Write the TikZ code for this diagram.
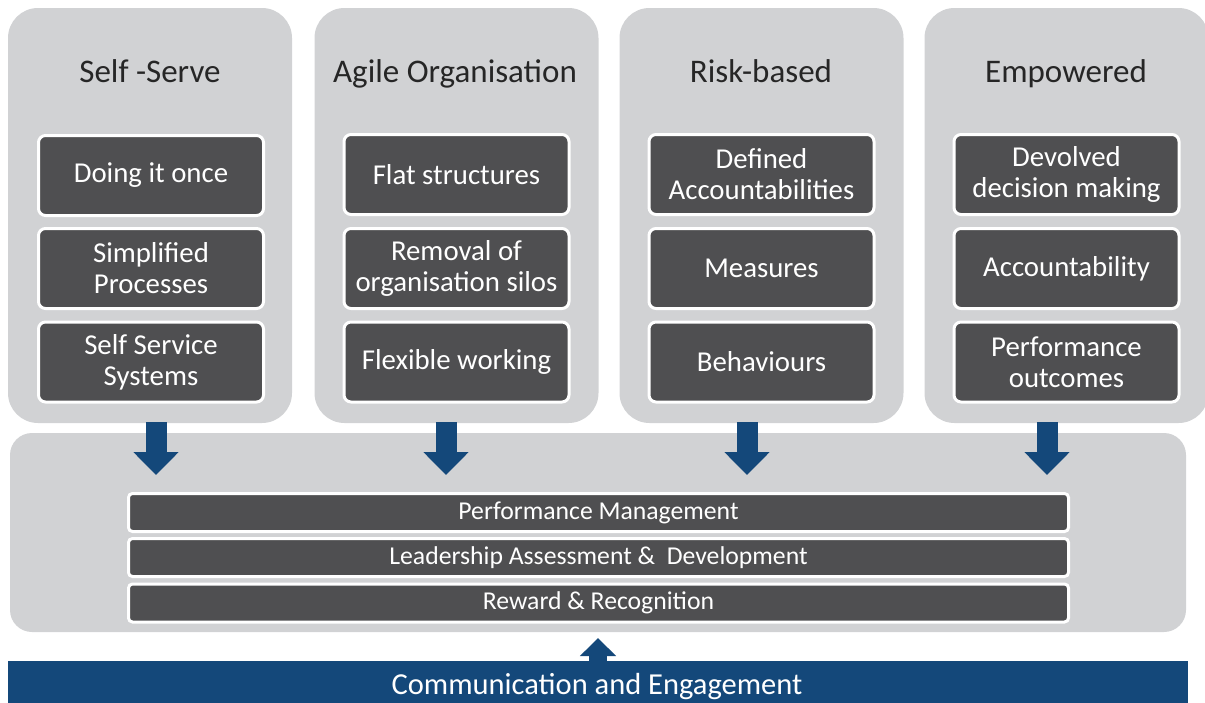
\documentclass[tikz,border=0pt]{standalone}
\usepackage{fontspec}
\setmainfont{Carlito}
\usetikzlibrary{arrows.meta}
\definecolor{panel}{HTML}{D1D2D4}
\definecolor{darkbox}{HTML}{4F4F51}
\definecolor{navy}{HTML}{14487A}
\definecolor{titlec}{HTML}{262626}
\begin{document}
\begin{tikzpicture}[x=1pt,y=-1pt,
  colbox/.style={rectangle, fill=panel, rounded corners=30pt, minimum width=284pt, minimum height=415pt, inner sep=0pt},
  coltitle/.style={font=\fontsize{33}{38}\selectfont, text=titlec, anchor=base, inner sep=0pt},
  itembox/.style={rectangle, fill=darkbox, draw=white, line width=3pt, rounded corners=7pt, minimum width=225pt, minimum height=80pt, text=white, align=center, font=\fontsize{28.8}{31}\selectfont, inner sep=0pt},
  basepanel/.style={rectangle, fill=panel, rounded corners=22pt, minimum width=1176pt, minimum height=199pt, inner sep=0pt},
  barbox/.style={rectangle, fill=darkbox, draw=white, line width=3pt, rounded corners=4pt, minimum width=940pt, minimum height=38pt, text=white, font=\fontsize{25.7}{28}\selectfont, inner sep=0pt},
  downarrow/.style={draw=navy, line width=21pt, -{Triangle[width=44pt,length=23pt]}},
  uparrow/.style={draw=navy, line width=18pt, -{Triangle[width=35pt,length=18pt]}},
]
\useasboundingbox (0,0) rectangle (1205,702);
% columns
\node[colbox] (col1) at (150,215.5) {};
\node[colbox] (col2) at (456.5,215.5) {};
\node[colbox] (col3) at (761.5,215.5) {};
\node[colbox] (col4) at (1066.5,215.5) {};
% titles
\node[coltitle] (t1) at (150,82) {Self -Serve};
\node[coltitle] (t2) at (455,82) {Agile Organisation};
\node[coltitle] (t3) at (761,82) {Risk-based};
\node[coltitle] (t4) at (1066,82) {Empowered};
% items
\node[itembox] (i11) at (151,175.5) {Doing it once};
\node[itembox] (i12) at (151,268.5) {Simplified\\Processes};
\node[itembox] (i13) at (151,362) {Self Service\\Systems};
\node[itembox] (i21) at (456.5,174.5) {Flat structures};
\node[itembox] (i22) at (456.5,268.5) {Removal of\\organisation silos};
\node[itembox] (i23) at (456.5,362) {Flexible working};
\node[itembox] (i31) at (761.5,174.5) {Defined\\Accountabilities};
\node[itembox] (i32) at (761.5,268.5) {Measures};
\node[itembox] (i33) at (761.5,362) {Behaviours};
\node[itembox] (i41) at (1066.5,174.5) {Devolved\\decision making};
\node[itembox] (i42) at (1066.5,268.5) {Accountability};
\node[itembox] (i43) at (1066.5,362) {Performance\\outcomes};
% base panel
\node[basepanel] (base) at (598,532.5) {};
\node[barbox] (b1) at (598.5,512.5) {Performance Management};
\node[barbox] (b2) at (598.5,557.5) {Leadership Assessment \& \ Development};
\node[barbox] (b3) at (598.5,603) {Reward \& Recognition};
% down arrows
\coordinate (s1) at (156,422); \coordinate (e1) at (156,475);
\coordinate (s2) at (446,422); \coordinate (e2) at (446,475);
\coordinate (s3) at (747,422); \coordinate (e3) at (747,475);
\coordinate (s4) at (1047,422); \coordinate (e4) at (1047,475);
\draw[downarrow] (s1) -- (e1);
\draw[downarrow] (s2) -- (e2);
\draw[downarrow] (s3) -- (e3);
\draw[downarrow] (s4) -- (e4);
% communication bar
\node[rectangle, fill=navy, minimum width=1180pt, minimum height=50pt, inner sep=0pt] (comm) at (598,686) {};
\node[font=\fontsize{30.5}{34}\selectfont, text=white, anchor=base, inner sep=0pt] (commtext) at (597,694) {Communication and Engagement};
\coordinate (us) at (598,662);
\coordinate (ue) at (598,638);
\draw[uparrow] (us) -- (ue);
\end{tikzpicture}
\end{document}
